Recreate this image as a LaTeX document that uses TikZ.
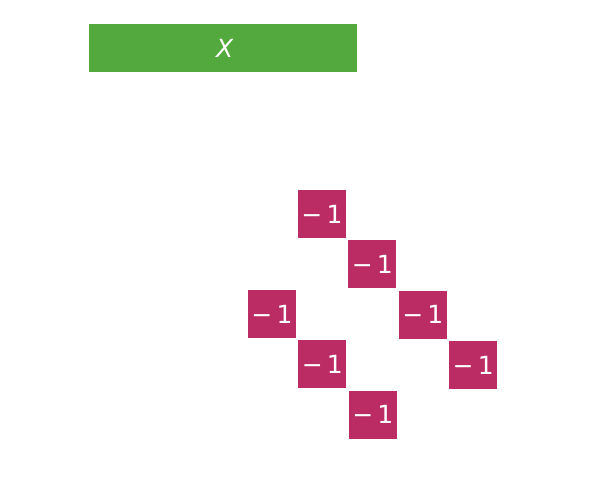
\documentclass[tikz,border=0pt]{standalone}
\usepackage{fontspec}
\setmainfont{DejaVu Sans}
\usepackage{xcolor}
\usepackage{tikz}
\usetikzlibrary{positioning}
\definecolor{headgreen}{RGB}{83, 169, 62}
\definecolor{cellmagenta}{RGB}{188, 44, 100}
\tikzset{
  font=\fontsize{25}{29}\selectfont,
  baseblock/.style={
    rectangle, inner sep=0pt, text=white, align=center
  },
  headerbar/.style={baseblock, fill=headgreen, minimum width=268pt, minimum height=48pt},
  cellblock/.style={baseblock, fill=cellmagenta, minimum width=48pt, minimum height=48pt}
}
\begin{document}
\begin{tikzpicture}[x=1pt, y=-1pt, node distance=2pt and 2pt]

  % Frame
  \useasboundingbox (0,0) rectangle (614,500);

  % Header
  \node[headerbar] (xbar) at (223,48) {\hspace{4pt}\textit{X}};

  % Cells
  \node[cellblock] (c1) at (322,214) {−\,1};
  \node[cellblock, below right=of c1] (c2) {−\,1};
  \node[cellblock, below right=of c2] (c3) {−\,1};
  \node[cellblock, below right=of c3] (c4) {−\,1};
  \node[cellblock] (c5) at (272,314) {−\,1};
  \node[cellblock, below right=of c5] (c6) {−\,1};
  \node[cellblock, below right=of c6] (c7) {−\,1};

\end{tikzpicture}
\end{document}
